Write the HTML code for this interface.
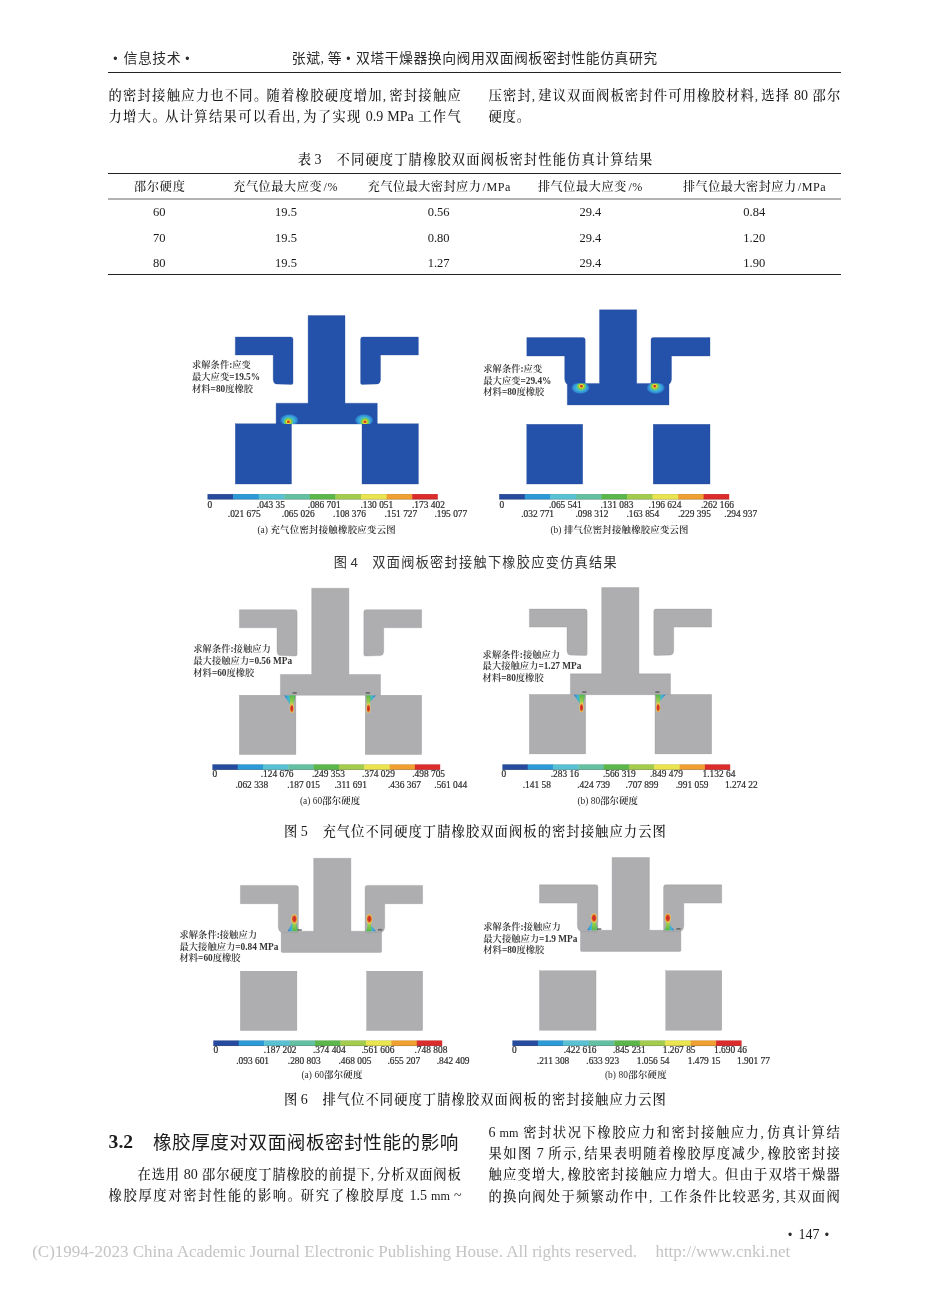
<!DOCTYPE html>
<html lang="zh-CN">
<head>
<meta charset="utf-8">
<title>双塔干燥器换向阀用双面阀板密封性能仿真研究</title>
<style>
*{margin:0;padding:0;box-sizing:border-box}
html,body{width:950px;height:1290px;background:#fff;overflow:hidden}
body{position:relative;font-family:"Liberation Serif","Noto Serif CJK SC",serif;color:#1a1a1a}
.l{position:absolute;white-space:nowrap;text-align:justify;text-align-last:justify;line-height:20px;height:20px}
.n{text-align:left;text-align-last:left}
.c{text-align:center;text-align-last:center}
.b{font-size:13.3px;letter-spacing:0.8px;font-weight:500}
.b .e{letter-spacing:0;font-size:14px}
.b .s{display:inline-block;width:4px}
.b i.q{width:12.2px}
.b .m{font-size:12.2px}
.b i{font-style:normal;display:inline-block;width:6px;letter-spacing:0;text-align:left;text-align-last:left}
.h{font-family:"Liberation Serif","Noto Sans CJK SC",sans-serif;font-weight:400;font-size:13.9px;color:#2a2a2a}
.dot{display:inline-block;text-align:center;text-align-last:center;font-family:"Liberation Sans",sans-serif;font-weight:400;font-size:12px;vertical-align:0.5px}
.cap{font-family:"Liberation Sans","Noto Sans CJK SC",sans-serif;font-weight:400;font-size:13.2px;color:#333}
.th{font-size:12.1px;font-weight:500}
.td{font-size:12.5px}
.sec{font-family:"Liberation Sans","Noto Sans CJK SC",sans-serif;font-weight:400;font-size:18.6px;color:#1c1c1c}
.sec b{font-family:"Liberation Serif",serif;font-weight:700;font-size:19.6px}
.an{font-size:9.3px;line-height:12px;height:12px;color:#333;font-weight:600}
.cb{font-size:9.4px;line-height:10px;height:10px;color:#2a2a2a;font-family:"Liberation Serif",serif;-webkit-text-stroke:0.2px #2a2a2a}
.sc{font-size:9.4px;line-height:12px;height:12px;color:#2a2a2a;font-weight:600}
.sc u{text-decoration:none;font-weight:400}
.pn{font-family:"Liberation Serif",serif;font-size:14px;color:#1a1a1a}
.ft{font-family:"Liberation Serif",serif;font-size:17px;color:#c4c4c4;line-height:20px;height:20px}
.r{position:absolute;background:#222}
svg{position:absolute;left:0;top:0;filter:blur(0.35px)}
.an,.cb,.sc{filter:blur(0.3px)}
</style>
</head>
<body>
<svg width="950" height="1290" viewBox="0 0 950 1290">
<defs>
<radialGradient id="rgo" cx="50%" cy="50%" r="50%">
<stop offset="0" stop-color="#58c8c0"/><stop offset="0.45" stop-color="#40b4dc"/><stop offset="0.8" stop-color="#2f8cd4"/><stop offset="1" stop-color="#2a6cc0" stop-opacity="0"/>
</radialGradient>
<radialGradient id="rgi" cx="50%" cy="50%" r="50%">
<stop offset="0" stop-color="#c4261c"/><stop offset="0.2" stop-color="#d84a24"/><stop offset="0.36" stop-color="#ecd834"/><stop offset="0.62" stop-color="#7cc840"/><stop offset="0.85" stop-color="#54c4a0"/><stop offset="1" stop-color="#54c4b8" stop-opacity="0"/>
</radialGradient>
<radialGradient id="rg" cx="50%" cy="50%" r="50%">
<stop offset="0" stop-color="#c8321e"/><stop offset="0.14" stop-color="#e8c030"/><stop offset="0.3" stop-color="#8cc63c"/><stop offset="0.5" stop-color="#3fb58c"/><stop offset="0.72" stop-color="#38a6d8"/><stop offset="1" stop-color="#2a78c8" stop-opacity="0"/>
</radialGradient>
<linearGradient id="wg" x1="0" y1="0" x2="0" y2="1">
<stop offset="0" stop-color="#3fa7d6"/><stop offset="0.25" stop-color="#6cc24a"/><stop offset="0.5" stop-color="#e6e04a"/><stop offset="0.72" stop-color="#f0a030"/><stop offset="1" stop-color="#d42a22"/>
</linearGradient>
<linearGradient id="wg2" x1="0" y1="1" x2="0" y2="0">
<stop offset="0" stop-color="#3fa7d6"/><stop offset="0.25" stop-color="#6cc24a"/><stop offset="0.5" stop-color="#e6e04a"/><stop offset="0.7" stop-color="#f0a030"/><stop offset="1" stop-color="#d42a22"/>
</linearGradient>
<linearGradient id="hgL" x1="0" y1="0" x2="1" y2="0">
<stop offset="0" stop-color="#2f6fc4"/><stop offset="0.3" stop-color="#3fb0d8"/><stop offset="0.6" stop-color="#4cc0a0"/><stop offset="1" stop-color="#62b84a"/>
</linearGradient>
<linearGradient id="hgR" x1="1" y1="0" x2="0" y2="0">
<stop offset="0" stop-color="#2f6fc4"/><stop offset="0.3" stop-color="#3fb0d8"/><stop offset="0.6" stop-color="#4cc0a0"/><stop offset="1" stop-color="#62b84a"/>
</linearGradient>
<linearGradient id="vgD" x1="0" y1="0" x2="0" y2="1">
<stop offset="0" stop-color="#58b848"/><stop offset="0.6" stop-color="#9acb4a"/><stop offset="1" stop-color="#e8d84a"/>
</linearGradient>
<linearGradient id="vgU" x1="0" y1="1" x2="0" y2="0">
<stop offset="0" stop-color="#58b848"/><stop offset="0.6" stop-color="#9acb4a"/><stop offset="1" stop-color="#e8d84a"/>
</linearGradient>
<radialGradient id="hd" cx="50%" cy="50%" r="50%">
<stop offset="0" stop-color="#c42a22"/><stop offset="0.55" stop-color="#d8402a"/><stop offset="0.8" stop-color="#ee9a34"/><stop offset="1" stop-color="#e8d060"/>
</radialGradient>
<clipPath id="cp4a"><rect x="276.1" y="403.2" width="101.2" height="20.8"/></clipPath>
<clipPath id="cp4b"><rect x="567.3" y="383.4" width="101.7" height="21.5"/></clipPath>
</defs>
<path d="M308.1 315.5 L345.0 315.5 L345.0 403.2 L377.3 403.2 L377.3 424.0 Q377.3 424.0 377.3 424.0 L276.1 424.0 Q276.1 424.0 276.1 424.0 L276.1 403.2 L308.1 403.2 Z" fill="#2452aa" stroke="#27489a" stroke-width="0.4" stroke-opacity="0.8"/>
<path d="M235.30 337.00 L290.80 337.00 Q293.00 337.00 293.00 339.20 L293.00 383.00 Q293.00 384.40 291.60 384.40 L276.40 384.00 Q273.50 383.80 273.20 379.70 L273.20 355.00 L235.30 355.00 Z" fill="#2452aa" stroke="#27489a" stroke-width="0.4" stroke-opacity="0.8"/>
<path d="M418.40 337.00 L362.80 337.00 Q360.60 337.00 360.60 339.20 L360.60 383.00 Q360.60 384.40 362.00 384.40 L377.30 384.00 Q380.20 383.80 380.50 379.70 L380.50 355.00 L418.40 355.00 Z" fill="#2452aa" stroke="#27489a" stroke-width="0.4" stroke-opacity="0.8"/>
<rect x="235.3" y="423.8" width="56.2" height="60.2" fill="#2452aa" stroke="#27489a" stroke-width="0.4" stroke-opacity="0.8"/>
<rect x="362.0" y="423.8" width="56.4" height="60.2" fill="#2452aa" stroke="#27489a" stroke-width="0.4" stroke-opacity="0.8"/>
<g clip-path="url(#cp4a)">
<ellipse cx="289.3" cy="420.2" rx="9.6" ry="6.4" fill="url(#rgo)"/>
<ellipse cx="288.4" cy="421.8" rx="5.2" ry="4.8" fill="url(#rgi)"/>
</g>
<g clip-path="url(#cp4a)">
<ellipse cx="364.1" cy="420.2" rx="9.6" ry="6.4" fill="url(#rgo)"/>
<ellipse cx="365.0" cy="421.8" rx="5.2" ry="4.8" fill="url(#rgi)"/>
</g>
<rect x="207.5" y="494.1" width="25.9" height="5.3" fill="#264b9e"/>
<rect x="233.1" y="494.1" width="25.9" height="5.3" fill="#2b9ad6"/>
<rect x="258.7" y="494.1" width="25.9" height="5.3" fill="#58c2d4"/>
<rect x="284.3" y="494.1" width="25.9" height="5.3" fill="#64c0a2"/>
<rect x="309.9" y="494.1" width="25.9" height="5.3" fill="#5cb74b"/>
<rect x="335.4" y="494.1" width="25.9" height="5.3" fill="#a3cc4d"/>
<rect x="361.0" y="494.1" width="25.9" height="5.3" fill="#eae44f"/>
<rect x="386.6" y="494.1" width="25.9" height="5.3" fill="#f0a030"/>
<rect x="412.2" y="494.1" width="25.6" height="5.3" fill="#dc2b2b"/>
<rect x="207.5" y="498.9" width="230.3" height="0.7" fill="#000" opacity="0.28"/>
<rect x="207.5" y="494.0" width="230.3" height="0.5" fill="#000" opacity="0.15"/>
<path d="M599.5 309.8 L636.7 309.8 L636.7 383.4 L669.0 383.4 L669.0 404.9 Q669.0 404.9 669.0 404.9 L567.3 404.9 Q567.3 404.9 567.3 404.9 L567.3 383.4 L599.5 383.4 Z" fill="#2452aa" stroke="#27489a" stroke-width="0.4" stroke-opacity="0.8"/>
<path d="M526.80 337.60 L583.00 337.60 Q585.20 337.60 585.20 339.80 L585.20 383.60 Q585.20 385.00 583.80 385.00 L569.30 384.60 Q565.00 384.40 564.70 378.90 L564.70 356.00 L526.80 356.00 Z" fill="#2452aa" stroke="#27489a" stroke-width="0.4" stroke-opacity="0.8"/>
<path d="M710.00 337.60 L653.20 337.60 Q651.00 337.60 651.00 339.80 L651.00 383.60 Q651.00 385.00 652.40 385.00 L666.90 384.60 Q671.20 384.40 671.50 378.90 L671.50 356.00 L710.00 356.00 Z" fill="#2452aa" stroke="#27489a" stroke-width="0.4" stroke-opacity="0.8"/>
<rect x="526.8" y="424.3" width="55.9" height="59.7" fill="#2452aa" stroke="#27489a" stroke-width="0.4" stroke-opacity="0.8"/>
<rect x="653.2" y="424.3" width="56.8" height="59.7" fill="#2452aa" stroke="#27489a" stroke-width="0.4" stroke-opacity="0.8"/>
<g clip-path="url(#cp4b)">
<ellipse cx="580.5" cy="387.8" rx="9.6" ry="6.4" fill="url(#rgo)"/>
<ellipse cx="581.4" cy="386.2" rx="5.2" ry="4.8" fill="url(#rgi)"/>
</g>
<g clip-path="url(#cp4b)">
<ellipse cx="655.7" cy="387.8" rx="9.6" ry="6.4" fill="url(#rgo)"/>
<ellipse cx="654.8" cy="386.2" rx="5.2" ry="4.8" fill="url(#rgi)"/>
</g>
<rect x="499.2" y="494.1" width="25.9" height="5.3" fill="#264b9e"/>
<rect x="524.8" y="494.1" width="25.9" height="5.3" fill="#2b9ad6"/>
<rect x="550.3" y="494.1" width="25.9" height="5.3" fill="#58c2d4"/>
<rect x="575.9" y="494.1" width="25.9" height="5.3" fill="#64c0a2"/>
<rect x="601.4" y="494.1" width="25.9" height="5.3" fill="#5cb74b"/>
<rect x="627.0" y="494.1" width="25.9" height="5.3" fill="#a3cc4d"/>
<rect x="652.5" y="494.1" width="25.9" height="5.3" fill="#eae44f"/>
<rect x="678.1" y="494.1" width="25.9" height="5.3" fill="#f0a030"/>
<rect x="703.6" y="494.1" width="25.6" height="5.3" fill="#dc2b2b"/>
<rect x="499.2" y="498.9" width="230.0" height="0.7" fill="#000" opacity="0.28"/>
<rect x="499.2" y="494.0" width="230.0" height="0.5" fill="#000" opacity="0.15"/>
<path d="M311.7 588.3 L348.9 588.3 L348.9 674.5 L380.5 674.5 L380.5 695.3 Q380.5 695.3 380.5 695.3 L280.4 695.3 Q280.4 695.3 280.4 695.3 L280.4 674.5 L311.7 674.5 Z" fill="#aeaeb0" stroke="#8e8e92" stroke-width="0.4" stroke-opacity="0.8"/>
<path d="M239.40 609.70 L294.90 609.70 Q297.10 609.70 297.10 611.90 L297.10 654.60 Q297.10 656.00 295.70 656.00 L280.20 655.60 Q277.30 655.40 277.00 651.30 L277.00 627.70 L239.40 627.70 Z" fill="#aeaeb0" stroke="#8e8e92" stroke-width="0.4" stroke-opacity="0.8"/>
<path d="M421.60 609.70 L366.00 609.70 Q363.80 609.70 363.80 611.90 L363.80 654.60 Q363.80 656.00 365.20 656.00 L380.50 655.60 Q383.40 655.40 383.70 651.30 L383.70 627.70 L421.60 627.70 Z" fill="#aeaeb0" stroke="#8e8e92" stroke-width="0.4" stroke-opacity="0.8"/>
<rect x="239.4" y="695.3" width="56.5" height="59.2" fill="#aeaeb0" stroke="#8e8e92" stroke-width="0.4" stroke-opacity="0.8"/>
<rect x="365.3" y="695.3" width="56.3" height="59.2" fill="#aeaeb0" stroke="#8e8e92" stroke-width="0.4" stroke-opacity="0.8"/>
<path d="M284.2 695.5 L295.7 695.5 L293.2 705.0 L290.4 705.0 Z" fill="url(#hgL)"/>
<path d="M289.8 695.5 L293.8 695.5 L293.4 706.0 L290.2 706.0 Z" fill="url(#vgD)"/>
<ellipse cx="291.8" cy="708.5" rx="2.1" ry="4.6" fill="url(#hd)"/>
<rect x="292.5" y="692.0" width="4.2" height="1.8" fill="#555" opacity="0.75"/>
<path d="M376.0 695.5 L365.5 695.5 L369.8 705.0 L367.0 705.0 Z" fill="url(#hgR)"/>
<path d="M366.4 695.5 L370.4 695.5 L370.0 706.0 L366.8 706.0 Z" fill="url(#vgD)"/>
<ellipse cx="368.4" cy="708.5" rx="2.1" ry="4.6" fill="url(#hd)"/>
<rect x="365.7" y="692.0" width="4.2" height="1.8" fill="#555" opacity="0.75"/>
<rect x="212.4" y="764.4" width="25.6" height="5.4" fill="#264b9e"/>
<rect x="237.7" y="764.4" width="25.6" height="5.4" fill="#2b9ad6"/>
<rect x="263.0" y="764.4" width="25.6" height="5.4" fill="#58c2d4"/>
<rect x="288.3" y="764.4" width="25.6" height="5.4" fill="#64c0a2"/>
<rect x="313.6" y="764.4" width="25.6" height="5.4" fill="#5cb74b"/>
<rect x="339.0" y="764.4" width="25.6" height="5.4" fill="#a3cc4d"/>
<rect x="364.3" y="764.4" width="25.6" height="5.4" fill="#eae44f"/>
<rect x="389.6" y="764.4" width="25.6" height="5.4" fill="#f0a030"/>
<rect x="414.9" y="764.4" width="25.3" height="5.4" fill="#dc2b2b"/>
<rect x="212.4" y="769.3" width="227.8" height="0.7" fill="#000" opacity="0.28"/>
<rect x="212.4" y="764.3" width="227.8" height="0.5" fill="#000" opacity="0.15"/>
<path d="M601.7 587.6 L638.9 587.6 L638.9 673.8 L670.5 673.8 L670.5 694.7 Q670.5 694.7 670.5 694.7 L570.4 694.7 Q570.4 694.7 570.4 694.7 L570.4 673.8 L601.7 673.8 Z" fill="#aeaeb0" stroke="#8e8e92" stroke-width="0.4" stroke-opacity="0.8"/>
<path d="M529.40 609.10 L584.90 609.10 Q587.10 609.10 587.10 611.30 L587.10 654.10 Q587.10 655.50 585.70 655.50 L570.20 655.10 Q567.30 654.90 567.00 650.80 L567.00 627.10 L529.40 627.10 Z" fill="#aeaeb0" stroke="#8e8e92" stroke-width="0.4" stroke-opacity="0.8"/>
<path d="M711.60 609.10 L656.00 609.10 Q653.80 609.10 653.80 611.30 L653.80 654.10 Q653.80 655.50 655.20 655.50 L670.50 655.10 Q673.40 654.90 673.70 650.80 L673.70 627.10 L711.60 627.10 Z" fill="#aeaeb0" stroke="#8e8e92" stroke-width="0.4" stroke-opacity="0.8"/>
<rect x="529.4" y="694.5" width="56.2" height="59.4" fill="#aeaeb0" stroke="#8e8e92" stroke-width="0.4" stroke-opacity="0.8"/>
<rect x="655.0" y="694.5" width="56.6" height="59.4" fill="#aeaeb0" stroke="#8e8e92" stroke-width="0.4" stroke-opacity="0.8"/>
<path d="M573.9 694.7 L585.4 694.7 L582.9 704.2 L580.1 704.2 Z" fill="url(#hgL)"/>
<path d="M579.5 694.7 L583.5 694.7 L583.1 705.2 L579.9 705.2 Z" fill="url(#vgD)"/>
<ellipse cx="581.5" cy="707.7" rx="2.1" ry="4.6" fill="url(#hd)"/>
<rect x="582.2" y="691.2" width="4.2" height="1.8" fill="#555" opacity="0.75"/>
<path d="M665.7 694.7 L655.2 694.7 L659.5 704.2 L656.7 704.2 Z" fill="url(#hgR)"/>
<path d="M656.1 694.7 L660.1 694.7 L659.7 705.2 L656.5 705.2 Z" fill="url(#vgD)"/>
<ellipse cx="658.1" cy="707.7" rx="2.1" ry="4.6" fill="url(#hd)"/>
<rect x="655.4" y="691.2" width="4.2" height="1.8" fill="#555" opacity="0.75"/>
<rect x="502.4" y="764.4" width="25.6" height="5.4" fill="#264b9e"/>
<rect x="527.7" y="764.4" width="25.6" height="5.4" fill="#2b9ad6"/>
<rect x="553.0" y="764.4" width="25.6" height="5.4" fill="#58c2d4"/>
<rect x="578.3" y="764.4" width="25.6" height="5.4" fill="#64c0a2"/>
<rect x="603.6" y="764.4" width="25.6" height="5.4" fill="#5cb74b"/>
<rect x="629.0" y="764.4" width="25.6" height="5.4" fill="#a3cc4d"/>
<rect x="654.3" y="764.4" width="25.6" height="5.4" fill="#eae44f"/>
<rect x="679.6" y="764.4" width="25.6" height="5.4" fill="#f0a030"/>
<rect x="704.9" y="764.4" width="25.3" height="5.4" fill="#dc2b2b"/>
<rect x="502.4" y="769.3" width="227.8" height="0.7" fill="#000" opacity="0.28"/>
<rect x="502.4" y="764.3" width="227.8" height="0.5" fill="#000" opacity="0.15"/>
<path d="M313.7 858.3 L350.9 858.3 L350.9 931.2 L381.6 931.2 L381.6 951.2 Q381.6 952.4 380.4 952.4 L282.4 952.4 Q281.2 952.4 281.2 951.2 L281.2 931.2 L313.7 931.2 Z" fill="#aeaeb0" stroke="#8e8e92" stroke-width="0.4" stroke-opacity="0.8"/>
<path d="M240.40 885.40 L296.20 885.40 Q298.40 885.40 298.40 887.60 L298.40 931.40 Q298.40 932.80 297.00 932.80 L282.90 932.40 Q278.60 932.20 278.30 926.70 L278.30 903.70 L240.40 903.70 Z" fill="#aeaeb0" stroke="#8e8e92" stroke-width="0.4" stroke-opacity="0.8"/>
<path d="M422.60 885.40 L367.30 885.40 Q365.10 885.40 365.10 887.60 L365.10 931.40 Q365.10 932.80 366.50 932.80 L380.10 932.40 Q384.40 932.20 384.70 926.70 L384.70 903.70 L422.60 903.70 Z" fill="#aeaeb0" stroke="#8e8e92" stroke-width="0.4" stroke-opacity="0.8"/>
<rect x="240.4" y="971.2" width="56.5" height="59.3" fill="#aeaeb0" stroke="#8e8e92" stroke-width="0.4" stroke-opacity="0.8"/>
<rect x="366.7" y="971.2" width="55.9" height="59.3" fill="#aeaeb0" stroke="#8e8e92" stroke-width="0.4" stroke-opacity="0.8"/>
<path d="M287.7 931.2 L298.5 931.2 L295.7 921.7 L292.9 921.7 Z" fill="url(#hgL)"/>
<path d="M292.3 931.2 L296.3 931.2 L295.9 920.7 L292.7 920.7 Z" fill="url(#vgU)"/>
<ellipse cx="294.3" cy="918.9" rx="3.0" ry="4.6" fill="url(#hd)"/>
<rect x="297.6" y="929.1" width="4.2" height="1.8" fill="#555" opacity="0.75"/>
<path d="M376.0 931.2 L365.4 931.2 L370.7 921.7 L367.9 921.7 Z" fill="url(#hgR)"/>
<path d="M367.3 931.2 L371.3 931.2 L370.9 920.7 L367.7 920.7 Z" fill="url(#vgU)"/>
<ellipse cx="369.3" cy="918.9" rx="3.0" ry="4.6" fill="url(#hd)"/>
<rect x="377.9" y="928.9" width="4.2" height="1.8" fill="#555" opacity="0.75"/>
<rect x="213.3" y="1040.5" width="25.7" height="5.4" fill="#264b9e"/>
<rect x="238.7" y="1040.5" width="25.7" height="5.4" fill="#2b9ad6"/>
<rect x="264.2" y="1040.5" width="25.7" height="5.4" fill="#58c2d4"/>
<rect x="289.6" y="1040.5" width="25.7" height="5.4" fill="#64c0a2"/>
<rect x="315.0" y="1040.5" width="25.7" height="5.4" fill="#5cb74b"/>
<rect x="340.5" y="1040.5" width="25.7" height="5.4" fill="#a3cc4d"/>
<rect x="365.9" y="1040.5" width="25.7" height="5.4" fill="#eae44f"/>
<rect x="391.3" y="1040.5" width="25.7" height="5.4" fill="#f0a030"/>
<rect x="416.8" y="1040.5" width="25.4" height="5.4" fill="#dc2b2b"/>
<rect x="213.3" y="1045.4" width="228.9" height="0.7" fill="#000" opacity="0.28"/>
<rect x="213.3" y="1040.4" width="228.9" height="0.5" fill="#000" opacity="0.15"/>
<path d="M612.1 857.6 L649.4 857.6 L649.4 930.3 L680.9 930.3 L680.9 950.2 Q680.9 951.4 679.7 951.4 L581.7 951.4 Q580.5 951.4 580.5 950.2 L580.5 930.3 L612.1 930.3 Z" fill="#aeaeb0" stroke="#8e8e92" stroke-width="0.4" stroke-opacity="0.8"/>
<path d="M539.50 884.80 L595.70 884.80 Q597.90 884.80 597.90 887.00 L597.90 930.50 Q597.90 931.90 596.50 931.90 L582.00 931.50 Q577.70 931.30 577.40 925.80 L577.40 903.10 L539.50 903.10 Z" fill="#aeaeb0" stroke="#8e8e92" stroke-width="0.4" stroke-opacity="0.8"/>
<path d="M721.70 884.80 L665.80 884.80 Q663.60 884.80 663.60 887.00 L663.60 930.50 Q663.60 931.90 665.00 931.90 L679.20 931.50 Q683.50 931.30 683.80 925.80 L683.80 903.10 L721.70 903.10 Z" fill="#aeaeb0" stroke="#8e8e92" stroke-width="0.4" stroke-opacity="0.8"/>
<rect x="539.5" y="970.8" width="56.5" height="59.4" fill="#aeaeb0" stroke="#8e8e92" stroke-width="0.4" stroke-opacity="0.8"/>
<rect x="665.8" y="970.8" width="55.9" height="59.4" fill="#aeaeb0" stroke="#8e8e92" stroke-width="0.4" stroke-opacity="0.8"/>
<path d="M587.2 930.3 L598.0 930.3 L595.4 920.8 L592.6 920.8 Z" fill="url(#hgL)"/>
<path d="M592.0 930.3 L596.0 930.3 L595.6 919.8 L592.4 919.8 Z" fill="url(#vgU)"/>
<ellipse cx="594.0" cy="918.0" rx="3.0" ry="4.6" fill="url(#hd)"/>
<rect x="597.1" y="928.2" width="4.2" height="1.8" fill="#555" opacity="0.75"/>
<path d="M674.5 930.3 L664.2 930.3 L669.2 920.8 L666.4 920.8 Z" fill="url(#hgR)"/>
<path d="M665.8 930.3 L669.8 930.3 L669.4 919.8 L666.2 919.8 Z" fill="url(#vgU)"/>
<ellipse cx="667.8" cy="918.0" rx="3.0" ry="4.6" fill="url(#hd)"/>
<rect x="676.4" y="928.0" width="4.2" height="1.8" fill="#555" opacity="0.75"/>
<rect x="512.4" y="1040.5" width="25.8" height="5.4" fill="#264b9e"/>
<rect x="537.9" y="1040.5" width="25.8" height="5.4" fill="#2b9ad6"/>
<rect x="563.3" y="1040.5" width="25.8" height="5.4" fill="#58c2d4"/>
<rect x="588.8" y="1040.5" width="25.8" height="5.4" fill="#64c0a2"/>
<rect x="614.3" y="1040.5" width="25.8" height="5.4" fill="#5cb74b"/>
<rect x="639.7" y="1040.5" width="25.8" height="5.4" fill="#a3cc4d"/>
<rect x="665.2" y="1040.5" width="25.8" height="5.4" fill="#eae44f"/>
<rect x="690.7" y="1040.5" width="25.8" height="5.4" fill="#f0a030"/>
<rect x="716.1" y="1040.5" width="25.5" height="5.4" fill="#dc2b2b"/>
<rect x="512.4" y="1045.4" width="229.2" height="0.7" fill="#000" opacity="0.28"/>
<rect x="512.4" y="1040.4" width="229.2" height="0.5" fill="#000" opacity="0.15"/>
</svg>
<div class="l h n" style="left:111.4px;top:49.0px;"><span class="dot" style="width:8px">•</span></div>
<div class="l h" style="left:123.6px;top:49.0px;width:57.0px;">信息技术</div>
<div class="l h n" style="left:183.4px;top:49.0px;"><span class="dot" style="width:8px">•</span></div>
<div class="l h" style="left:291.8px;top:49.0px;width:28.4px;">张斌</div>
<div class="l h n" style="left:320.6px;top:49.0px;">,</div>
<div class="l h n" style="left:327.8px;top:49.0px;">等</div>
<div class="l h n" style="left:344.4px;top:49.0px;"><span class="dot" style="width:8px">•</span></div>
<div class="l h" style="left:356.0px;top:49.0px;width:301.2px;">双塔干燥器换向阀用双面阀板密封性能仿真研究</div>
<div class="r" style="left:108.0px;top:71.70px;width:733.0px;height:1.40px;background:#222"></div>
<div class="l b" style="left:108.5px;top:86.0px;width:353.0px;">的密封接触应力也不同<i class="q">。</i>随着橡胶硬度增加<i>,</i>密封接触应</div>
<div class="l b" style="left:108.5px;top:107.0px;width:353.0px;">力增大<i class="q">。</i>从计算结果可以看出<i>,</i>为了实现<span class="e"><span class="s"> </span>0.9<span class="s"> </span>MPa<span class="s"> </span></span>工作气</div>
<div class="l b" style="left:488.5px;top:86.0px;width:352.5px;">压密封<i>,</i>建议双面阀板密封件可用橡胶材料<i>,</i>选择<span class="e"><span class="s"> </span>80<span class="s"> </span></span>邵尔</div>
<div class="l b n" style="left:488.5px;top:107.0px;">硬度。</div>
<div class="l b n" style="left:297.8px;top:149.6px;">表</div>
<div class="l b n" style="left:314.4px;top:149.6px;"><span class="e">3</span></div>
<div class="l b" style="left:336.6px;top:149.6px;width:316.6px;">不同硬度丁腈橡胶双面阀板密封性能仿真计算结果</div>
<div class="r" style="left:108.0px;top:172.80px;width:733.0px;height:1.40px;background:#222"></div>
<div class="r" style="left:108.0px;top:197.60px;width:733.0px;height:2.00px;background:#b2b2b2"></div>
<div class="r" style="left:108.0px;top:273.80px;width:733.0px;height:1.60px;background:#222"></div>
<div class="l th" style="left:134.0px;top:177.2px;width:50.8px;">邵尔硬度</div>
<div class="l th" style="left:233.2px;top:177.2px;width:88.4px;">充气位最大应变</div>
<div class="l th n" style="left:323.6px;top:177.4px;letter-spacing:0.5px;">/%</div>
<div class="l th" style="left:367.8px;top:177.2px;width:113.0px;">充气位最大密封应力</div>
<div class="l th n" style="left:482.6px;top:177.4px;letter-spacing:0.5px;">/MPa</div>
<div class="l th" style="left:537.9px;top:177.2px;width:88.4px;">排气位最大应变</div>
<div class="l th n" style="left:628.4px;top:177.4px;letter-spacing:0.5px;">/%</div>
<div class="l th" style="left:683.0px;top:177.2px;width:113.0px;">排气位最大密封应力</div>
<div class="l th n" style="left:797.8px;top:177.4px;letter-spacing:0.5px;">/MPa</div>
<div class="l td c" style="left:129.2px;top:202.2px;width:60.0px;">60</div>
<div class="l td c" style="left:256.0px;top:202.2px;width:60.0px;">19.5</div>
<div class="l td c" style="left:408.6px;top:202.2px;width:60.0px;">0.56</div>
<div class="l td c" style="left:560.4px;top:202.2px;width:60.0px;">29.4</div>
<div class="l td c" style="left:724.2px;top:202.2px;width:60.0px;">0.84</div>
<div class="l td c" style="left:129.2px;top:227.6px;width:60.0px;">70</div>
<div class="l td c" style="left:256.0px;top:227.6px;width:60.0px;">19.5</div>
<div class="l td c" style="left:408.6px;top:227.6px;width:60.0px;">0.80</div>
<div class="l td c" style="left:560.4px;top:227.6px;width:60.0px;">29.4</div>
<div class="l td c" style="left:724.2px;top:227.6px;width:60.0px;">1.20</div>
<div class="l td c" style="left:129.2px;top:252.9px;width:60.0px;">80</div>
<div class="l td c" style="left:256.0px;top:252.9px;width:60.0px;">19.5</div>
<div class="l td c" style="left:408.6px;top:252.9px;width:60.0px;">1.27</div>
<div class="l td c" style="left:560.4px;top:252.9px;width:60.0px;">29.4</div>
<div class="l td c" style="left:724.2px;top:252.9px;width:60.0px;">1.90</div>
<div class="l cb n" style="left:207.6px;top:500.1px;">0</div>
<div class="l cb n" style="left:227.8px;top:508.5px;">.021 675</div>
<div class="l cb n" style="left:256.8px;top:500.1px;">.043 35</div>
<div class="l cb n" style="left:281.8px;top:508.5px;">.065 026</div>
<div class="l cb n" style="left:307.8px;top:500.1px;">.086 701</div>
<div class="l cb n" style="left:333.1px;top:508.5px;">.108 376</div>
<div class="l cb n" style="left:360.4px;top:500.1px;">.130 051</div>
<div class="l cb n" style="left:384.4px;top:508.5px;">.151 727</div>
<div class="l cb n" style="left:412.0px;top:500.1px;">.173 402</div>
<div class="l cb n" style="left:434.4px;top:508.5px;">.195 077</div>
<div class="l an n" style="left:192.0px;top:359.0px;">求解条件:应变</div>
<div class="l an n" style="left:192.0px;top:371.0px;">最大应变=19.5%</div>
<div class="l an n" style="left:192.0px;top:382.8px;">材料=80度橡胶</div>
<div class="l sc" style="left:257.4px;top:523.8px;width:138.3px;"><u>(a) </u>充气位密封接触橡胶应变云图</div>
<div class="l cb n" style="left:499.4px;top:500.1px;">0</div>
<div class="l cb n" style="left:521.2px;top:508.5px;">.032 771</div>
<div class="l cb n" style="left:548.9px;top:500.1px;">.065 541</div>
<div class="l cb n" style="left:575.5px;top:508.5px;">.098 312</div>
<div class="l cb n" style="left:600.5px;top:500.1px;">.131 083</div>
<div class="l cb n" style="left:626.4px;top:508.5px;">.163 854</div>
<div class="l cb n" style="left:648.6px;top:500.1px;">.196 624</div>
<div class="l cb n" style="left:678.0px;top:508.5px;">.229 395</div>
<div class="l cb n" style="left:701.0px;top:500.1px;">.262 166</div>
<div class="l cb n" style="left:724.3px;top:508.5px;">.294 937</div>
<div class="l an n" style="left:483.3px;top:363.2px;">求解条件:应变</div>
<div class="l an n" style="left:483.3px;top:374.6px;">最大应变=29.4%</div>
<div class="l an n" style="left:483.3px;top:386.3px;">材料=80度橡胶</div>
<div class="l sc" style="left:550.5px;top:523.8px;width:138.0px;"><u>(b) </u>排气位密封接触橡胶应变云图</div>
<div class="l cb n" style="left:212.4px;top:769.0px;">0</div>
<div class="l cb n" style="left:235.4px;top:780.0px;">.062 338</div>
<div class="l cb n" style="left:260.7px;top:769.0px;">.124 676</div>
<div class="l cb n" style="left:287.2px;top:780.0px;">.187 015</div>
<div class="l cb n" style="left:312.0px;top:769.0px;">.249 353</div>
<div class="l cb n" style="left:334.4px;top:780.0px;">.311 691</div>
<div class="l cb n" style="left:362.1px;top:769.0px;">.374 029</div>
<div class="l cb n" style="left:388.0px;top:780.0px;">.436 367</div>
<div class="l cb n" style="left:412.2px;top:769.0px;">.498 705</div>
<div class="l cb n" style="left:434.3px;top:780.0px;">.561 044</div>
<div class="l an n" style="left:193.3px;top:643.2px;">求解条件:接触应力</div>
<div class="l an n" style="left:193.3px;top:654.6px;">最大接触应力=0.56 MPa</div>
<div class="l an n" style="left:193.3px;top:666.6px;">材料=60度橡胶</div>
<div class="l sc" style="left:300.0px;top:795.3px;width:60.2px;"><u>(a) 60</u>邵尔硬度</div>
<div class="l cb n" style="left:501.5px;top:769.0px;">0</div>
<div class="l cb n" style="left:522.7px;top:780.0px;">.141 58</div>
<div class="l cb n" style="left:550.7px;top:769.0px;">.283 16</div>
<div class="l cb n" style="left:577.2px;top:780.0px;">.424 739</div>
<div class="l cb n" style="left:602.9px;top:769.0px;">.566 319</div>
<div class="l cb n" style="left:625.6px;top:780.0px;">.707 899</div>
<div class="l cb n" style="left:650.0px;top:769.0px;">.849 479</div>
<div class="l cb n" style="left:675.7px;top:780.0px;">.991 059</div>
<div class="l cb n" style="left:702.5px;top:769.0px;">1.132 64</div>
<div class="l cb n" style="left:724.9px;top:780.0px;">1.274 22</div>
<div class="l an n" style="left:482.6px;top:648.6px;">求解条件:接触应力</div>
<div class="l an n" style="left:482.6px;top:660.4px;">最大接触应力=1.27 MPa</div>
<div class="l an n" style="left:482.6px;top:672.0px;">材料=80度橡胶</div>
<div class="l sc" style="left:577.4px;top:795.3px;width:60.4px;"><u>(b) 80</u>邵尔硬度</div>
<div class="l cb n" style="left:213.6px;top:1045.0px;">0</div>
<div class="l cb n" style="left:236.2px;top:1055.7px;">.093 601</div>
<div class="l cb n" style="left:263.7px;top:1045.0px;">.187 202</div>
<div class="l cb n" style="left:287.8px;top:1055.7px;">.280 803</div>
<div class="l cb n" style="left:312.9px;top:1045.0px;">.374 404</div>
<div class="l cb n" style="left:338.5px;top:1055.7px;">.468 005</div>
<div class="l cb n" style="left:361.5px;top:1045.0px;">.561 606</div>
<div class="l cb n" style="left:387.4px;top:1055.7px;">.655 207</div>
<div class="l cb n" style="left:414.5px;top:1045.0px;">.748 808</div>
<div class="l cb n" style="left:436.7px;top:1055.7px;">.842 409</div>
<div class="l an n" style="left:179.5px;top:929.0px;">求解条件:接触应力</div>
<div class="l an n" style="left:179.5px;top:940.7px;">最大接触应力=0.84 MPa</div>
<div class="l an n" style="left:179.5px;top:952.0px;">材料=60度橡胶</div>
<div class="l sc" style="left:301.5px;top:1069.3px;width:60.8px;"><u>(a) 60</u>邵尔硬度</div>
<div class="l cb n" style="left:512.1px;top:1045.0px;">0</div>
<div class="l cb n" style="left:536.8px;top:1055.7px;">.211 308</div>
<div class="l cb n" style="left:563.7px;top:1045.0px;">.422 616</div>
<div class="l cb n" style="left:586.3px;top:1055.7px;">.633 923</div>
<div class="l cb n" style="left:612.9px;top:1045.0px;">.845 231</div>
<div class="l cb n" style="left:636.7px;top:1055.7px;">1.056 54</div>
<div class="l cb n" style="left:662.7px;top:1045.0px;">1.267 85</div>
<div class="l cb n" style="left:687.7px;top:1055.7px;">1.479 15</div>
<div class="l cb n" style="left:714.0px;top:1045.0px;">1.690 46</div>
<div class="l cb n" style="left:737.0px;top:1055.7px;">1.901 77</div>
<div class="l an n" style="left:483.3px;top:921.1px;">求解条件:接触应力</div>
<div class="l an n" style="left:483.3px;top:932.8px;">最大接触应力=1.9 MPa</div>
<div class="l an n" style="left:483.3px;top:944.2px;">材料=80度橡胶</div>
<div class="l sc" style="left:605.0px;top:1069.3px;width:61.6px;"><u>(b) 80</u>邵尔硬度</div>
<div class="l cap n" style="left:333.8px;top:553.0px;">图</div>
<div class="l cap n" style="left:350.4px;top:552.8px;">4</div>
<div class="l cap" style="left:372.3px;top:553.0px;width:244.4px;">双面阀板密封接触下橡胶应变仿真结果</div>
<div class="l b n" style="left:284.0px;top:822.3px;">图</div>
<div class="l b n" style="left:300.8px;top:822.3px;"><span class="e">5</span></div>
<div class="l b" style="left:322.4px;top:822.3px;width:344.2px;">充气位不同硬度丁腈橡胶双面阀板的密封接触应力云图</div>
<div class="l b n" style="left:284.0px;top:1089.9px;">图</div>
<div class="l b n" style="left:300.8px;top:1089.9px;"><span class="e">6</span></div>
<div class="l b" style="left:322.4px;top:1089.9px;width:344.2px;">排气位不同硬度丁腈橡胶双面阀板的密封接触应力云图</div>
<div class="l sec n" style="left:108.6px;top:1131.6px;"><b>3.2</b></div>
<div class="l sec" style="left:153.0px;top:1133.2px;width:305.4px;">橡胶厚度对双面阀板密封性能的影响</div>
<div class="l b" style="left:137.6px;top:1165.4px;width:323.6px;letter-spacing:0.5px;">在选用<span class="e"><span class="s"> </span>80<span class="s"> </span></span>邵尔硬度丁腈橡胶的前提下<i>,</i>分析双面阀板</div>
<div class="l b" style="left:108.5px;top:1186.0px;width:353.0px;">橡胶厚度对密封性能的影响<i class="q">。</i>研究了橡胶厚度<span class="e"><span class="s"> </span>1.5<span class="s"> </span><span class="m">mm</span><span class="s"> </span>~</span></div>
<div class="l b" style="left:488.5px;top:1122.8px;width:352.0px;"><span class="e">6<span class="s"> </span><span class="m">mm</span><span class="s"> </span></span>密封状况下橡胶应力和密封接触应力<i>,</i>仿真计算结</div>
<div class="l b" style="left:488.5px;top:1144.0px;width:352.0px;">果如图<span class="e"><span class="s"> </span>7<span class="s"> </span></span>所示<i>,</i>结果表明随着橡胶厚度减少<i>,</i>橡胶密封接</div>
<div class="l b" style="left:488.5px;top:1165.2px;width:352.0px;">触应变增大<i>,</i>橡胶密封接触应力增大<i class="q">。</i>但由于双塔干燥器</div>
<div class="l b" style="left:488.5px;top:1186.6px;width:352.0px;">的换向阀处于频繁动作中<i>,</i> 工作条件比较恶劣<i>,</i>其双面阀</div>
<div class="l h n" style="left:786.0px;top:1225.2px;"><span class="dot" style="width:8px">•</span></div>
<div class="l pn n" style="left:798.4px;top:1225.4px;">147</div>
<div class="l h n" style="left:822.8px;top:1225.2px;"><span class="dot" style="width:8px">•</span></div>
<div class="l ft n" style="left:32.2px;top:1242.0px;">(C)1994-2023 China Academic Journal Electronic Publishing House. All rights reserved.</div>
<div class="l ft n" style="left:655.4px;top:1242.0px;">http://www.cnki.net</div>
</body>
</html>
